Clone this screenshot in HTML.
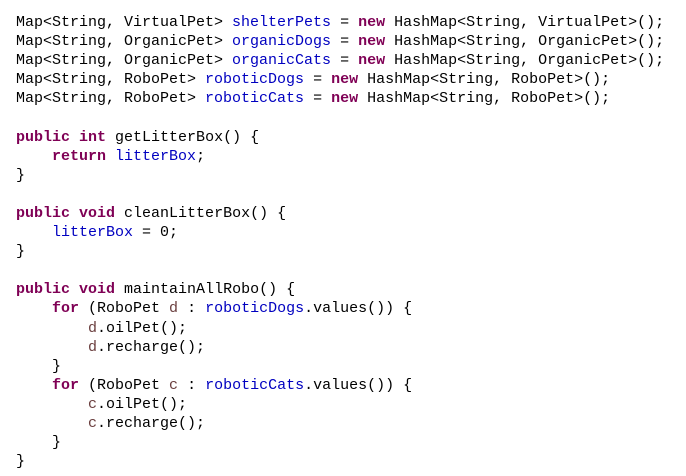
<!DOCTYPE html>
<html><head><meta charset="utf-8"><style>
html,body{margin:0;padding:0;background:#fff;}
body{width:686px;height:476px;overflow:hidden;}
pre{margin:0;position:absolute;left:16px;top:13px;font-family:"Liberation Mono",monospace;font-size:15px;line-height:19.1px;color:#000;}
.k{color:#7f0055;font-weight:bold;}
.f{color:#0000c0;}
.v{color:#6a3e3e;}
</style></head><body><pre>Map&lt;String, VirtualPet&gt; <span class="f">shelterPets</span> = <span class="k">new</span> HashMap&lt;String, VirtualPet&gt;();
Map&lt;String, OrganicPet&gt; <span class="f">organicDogs</span> = <span class="k">new</span> HashMap&lt;String, OrganicPet&gt;();
Map&lt;String, OrganicPet&gt; <span class="f">organicCats</span> = <span class="k">new</span> HashMap&lt;String, OrganicPet&gt;();
Map&lt;String, RoboPet&gt; <span class="f">roboticDogs</span> = <span class="k">new</span> HashMap&lt;String, RoboPet&gt;();
Map&lt;String, RoboPet&gt; <span class="f">roboticCats</span> = <span class="k">new</span> HashMap&lt;String, RoboPet&gt;();

<span class="k">public</span> <span class="k">int</span> getLitterBox() {
    <span class="k">return</span> <span class="f">litterBox</span>;
}

<span class="k">public</span> <span class="k">void</span> cleanLitterBox() {
    <span class="f">litterBox</span> = 0;
}

<span class="k">public</span> <span class="k">void</span> maintainAllRobo() {
    <span class="k">for</span> (RoboPet <span class="v">d</span> : <span class="f">roboticDogs</span>.values()) {
        <span class="v">d</span>.oilPet();
        <span class="v">d</span>.recharge();
    }
    <span class="k">for</span> (RoboPet <span class="v">c</span> : <span class="f">roboticCats</span>.values()) {
        <span class="v">c</span>.oilPet();
        <span class="v">c</span>.recharge();
    }
}</pre></body></html>
